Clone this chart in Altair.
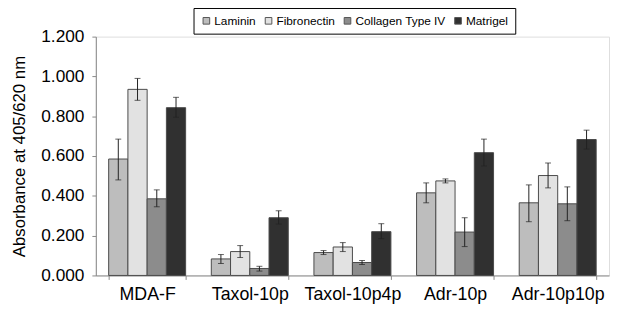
import altair as alt
import pandas as pd

groups = ["MDA-F", "Taxol-10p", "Taxol-10p4p", "Adr-10p", "Adr-10p10p"]
series = ["Laminin", "Fibronectin", "Collagen Type IV", "Matrigel"]
colors = ["#bdbdbd", "#e2e2e2", "#8c8c8c", "#303030"]

laminin = [0.585, 0.083, 0.115, 0.415, 0.365]
laminin_lo = [0.480, 0.060, 0.105, 0.365, 0.270]
laminin_hi = [0.685, 0.105, 0.125, 0.465, 0.455]

fibronectin = [0.935, 0.120, 0.143, 0.475, 0.502]
fibronectin_lo = [0.880, 0.090, 0.120, 0.465, 0.440]
fibronectin_hi = [0.990, 0.150, 0.165, 0.485, 0.565]

collagen = [0.385, 0.035, 0.065, 0.218, 0.360]
collagen_lo = [0.345, 0.022, 0.055, 0.145, 0.275]
collagen_hi = [0.430, 0.046, 0.075, 0.290, 0.445]

matrigel = [0.843, 0.290, 0.220, 0.617, 0.683]
matrigel_lo = [0.795, 0.258, 0.185, 0.550, 0.635]
matrigel_hi = [0.895, 0.325, 0.260, 0.685, 0.730]

vals = [laminin, fibronectin, collagen, matrigel]
los = [laminin_lo, fibronectin_lo, collagen_lo, matrigel_lo]
his = [laminin_hi, fibronectin_hi, collagen_hi, matrigel_hi]

rows = []
for s, v, lo, hi in zip(series, vals, los, his):
    for i, g in enumerate(groups):
        rows.append({"group": g, "series": s, "value": v[i], "lo": lo[i], "hi": hi[i]})
df = pd.DataFrame(rows)

FONT = "Arial, Liberation Sans, Helvetica, sans-serif"

x = alt.X("group:N", sort=groups,
          scale=alt.Scale(domain=groups, paddingInner=0.25, paddingOuter=0.125),
          axis=alt.Axis(title=None, labelAngle=0, tickBand="extent", labelFontSize=18,
                        labelColor="#000", labelPadding=6, tickSize=4,
                        domainColor="#888", tickColor="#888"))
xo = alt.XOffset("series:N", sort=series,
                 scale=alt.Scale(domain=series, paddingInner=0, paddingOuter=0))

y_scale = alt.Scale(domain=[0, 1.2], nice=False)

bars = alt.Chart(df).mark_bar(stroke="#4a4a4a", strokeWidth=1).encode(
    x=x,
    xOffset=xo,
    y=alt.Y("value:Q", scale=y_scale,
            axis=alt.Axis(title="Absorbance at 405/620 nm", format=".3f",
                          values=[0, 0.2, 0.4, 0.6, 0.8, 1.0, 1.2], grid=False,
                          labelFontSize=17.5, titleFontSize=17, titleFontWeight="normal",
                          labelColor="#000", titleColor="#000",
                          domainColor="#888", tickColor="#888", tickSize=4, labelPadding=8,
                          titlePadding=12)),
    fill=alt.Fill("series:N", scale=alt.Scale(domain=series, range=colors),
                  legend=alt.Legend(title=None, orient="none", direction="horizontal",
                                    legendX=99, legendY=-29,
                                    symbolType="square", symbolSize=45,
                                    symbolStrokeColor="#555", symbolStrokeWidth=1,
                                    labelFontSize=12, labelColor="#000",
                                    columnPadding=6, labelOffset=2,
                                    strokeColor="#000", fillColor="#fff", padding=7)),
)

rules = alt.Chart(df).mark_rule(color="#222", strokeWidth=1).encode(
    x=x, xOffset=xo, y=alt.Y("lo:Q", scale=y_scale), y2="hi:Q")
cap_lo = alt.Chart(df).mark_tick(color="#222", thickness=1, size=6).encode(
    x=x, xOffset=xo, y=alt.Y("lo:Q", scale=y_scale))
cap_hi = alt.Chart(df).mark_tick(color="#222", thickness=1, size=6).encode(
    x=x, xOffset=xo, y=alt.Y("hi:Q", scale=y_scale))

chart = alt.layer(bars, rules, cap_lo, cap_hi).properties(
    width=520, height=242,
    autosize=alt.AutoSizeParams(type="none"),
    padding={"left": 89, "top": 27, "right": 1, "bottom": 32},
).configure_view(stroke=None).configure(background="#ffffff", font=FONT).configure_axis(
    labelFont=FONT, titleFont=FONT).configure_legend(labelFont=FONT)

chart.save("out.html", embed_options={"renderer": "svg", "actions": False})
